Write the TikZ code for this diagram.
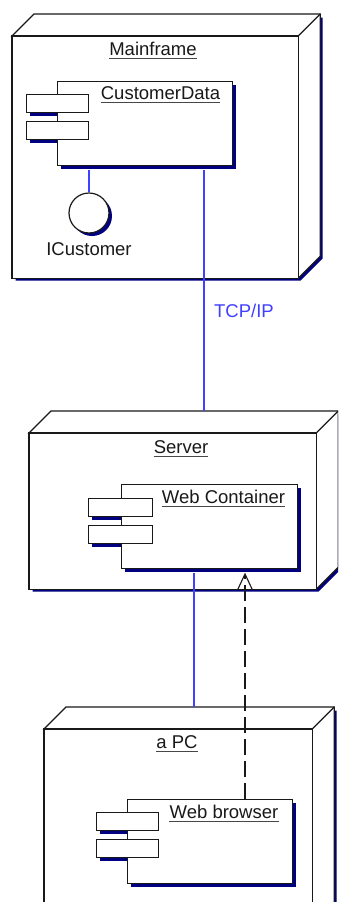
\documentclass[tikz,border=0pt]{standalone}
\usepackage{fontspec}
\setmainfont{Liberation Sans}
\usetikzlibrary{arrows.meta,calc}
\definecolor{shadowc}{RGB}{0,0,128}
\definecolor{linkc}{RGB}{64,64,255}
\definecolor{inkc}{RGB}{25,25,25}
\tikzset{
  outl/.style={draw=inkc, line width=1.2pt, fill=white},
  front/.style={outl, rectangle, inner sep=0pt, anchor=north west},
  lbl/.style={inner sep=0pt, text=inkc, font=\fontsize{18.5}{21}\selectfont, anchor=base},
  ul/.style={draw=inkc!80, line width=1.2pt},
  link/.style={draw=linkc, line width=1.2pt},
  dep/.style={draw=inkc, line width=1.3pt, dash pattern=on 16pt off 6pt,
    -{Straight Barb[length=16pt,width=15pt,line width=1.1pt]}},
  iface/.style={outl, circle, inner sep=0pt, minimum size=40pt},
}
% 3D deployment node: name, x1, y1, x2, y2, depth
\newcommand\depnode[6]{%
  \fill[shadowc] ({#2+3.5},{#5+3.5}) -- ({#2+3.5},{#3+3.5}) -- ({#2+#6+3.5},{#3-#6+3.5})
    -- ({#4+#6+3.5},{#3-#6+3.5}) -- ({#4+#6+3.5},{#5-#6+3.5}) -- ({#4+3.5},{#5+3.5}) -- cycle;
  \node[front, minimum width={(#4-#2)*1pt}, minimum height={(#5-#3)*1pt}] (#1) at (#2,#3) {};
  \coordinate (#1-back) at ($(#1.north west)+(#6,-#6)$);
  \filldraw[outl, line join=miter] (#1.north west) -- (#1-back) -- ($(#1.north east)+(#6,-#6)$)
    -- ($(#1.south east)+(#6,-#6)$) -- (#1.south east) -- (#1.north east) -- cycle;
  \draw[outl, fill=none] (#1.north east) -- ($(#1.north east)+(#6,-#6)$);
  \draw[outl] (#1.north west) rectangle (#1.south east);
}
% component: name, x1, y1, x2, y2, px1, px2, ya, yb
\newcommand\component[9]{%
  \fill[shadowc] ({#6+4},{#8+4}) rectangle ({#7+4},{#9+4});
  \fill[shadowc] ({#6+4},{#9+9+4}) rectangle ({#7+4},{#9+#9-#8+9+4});
  \fill[shadowc] ({#2+4},{#3+4}) rectangle ({#4+4},{#5+4});
  \node[front, minimum width={(#4-#2)*1pt}, minimum height={(#5-#3)*1pt}] (#1) at (#2,#3) {};
  \node[front, minimum width={(#7-#6)*1pt}, minimum height={(#9-#8)*1pt}] (#1-p1) at (#6,#8) {};
  \node[front, minimum width={(#7-#6)*1pt}, minimum height={(#9-#8)*1pt}] (#1-p2) at (#6,{#9+9}) {};
}
\newcommand\ulabel[4]{% name, x, baseline y, text
  \node[lbl] (#1) at (#2,#3) {#4};
  \draw[ul] ([yshift=-3.5pt]#1.base west) -- ([yshift=-3.5pt]#1.base east);
}
\begin{document}
\begin{tikzpicture}[x=1pt,y=-1pt]
  \useasboundingbox (0,0) rectangle (338,902);
  \clip (0,0) rectangle (338,902);
  \fill[white] (0,0) rectangle (338,902);

  % deployment nodes
  \depnode{mf}{12}{36}{297}{277}{22}
  \depnode{srv}{29}{433}{315}{588}{22}
  \depnode{pc}{44}{729}{311}{930}{22}

  \ulabel{mf-l}{153}{55}{Mainframe}
  \ulabel{srv-l}{181}{453}{Server}
  \ulabel{pc-l}{177}{748}{a PC}

  \coordinate (tcp) at (204,300);
  \coordinate (wx) at (194,650);
  \coordinate (dx) at (245,700);
  \node[lbl, text=linkc] (tcp-l) at (244,317) {TCP/IP};

  % components
  \component{cd}{57}{81}{232}{165}{26}{88}{94}{112}
  \component{wc}{121}{484}{297}{568}{88}{152}{498}{516}
  \component{wb}{127}{799}{292}{883}{96}{158}{812}{830}

  \ulabel{cd-l}{160.5}{99}{CustomerData}
  \ulabel{wc-l}{223.5}{503}{Web Container}
  \ulabel{wb-l}{224}{818}{Web browser}

  % interface
  \fill[shadowc] (92,216) circle (20);
  \node[iface] (ic) at (89,213) {};
  \draw[link] ([yshift=-4pt]cd.south -| ic) -- (ic.north);
  \node[lbl] (ic-l) at (89,255) {ICustomer};

  % connectors
  \draw[link] ([yshift=-4pt]cd.south -| tcp) -- (srv-back -| tcp);
  \draw[link] ([yshift=-4pt]wc.south -| wx) -- (pc-back -| wx);
  \draw[dep] (wb.north -| dx) -- ([yshift=-3.5pt]wc.south -| dx);
\end{tikzpicture}
\end{document}
